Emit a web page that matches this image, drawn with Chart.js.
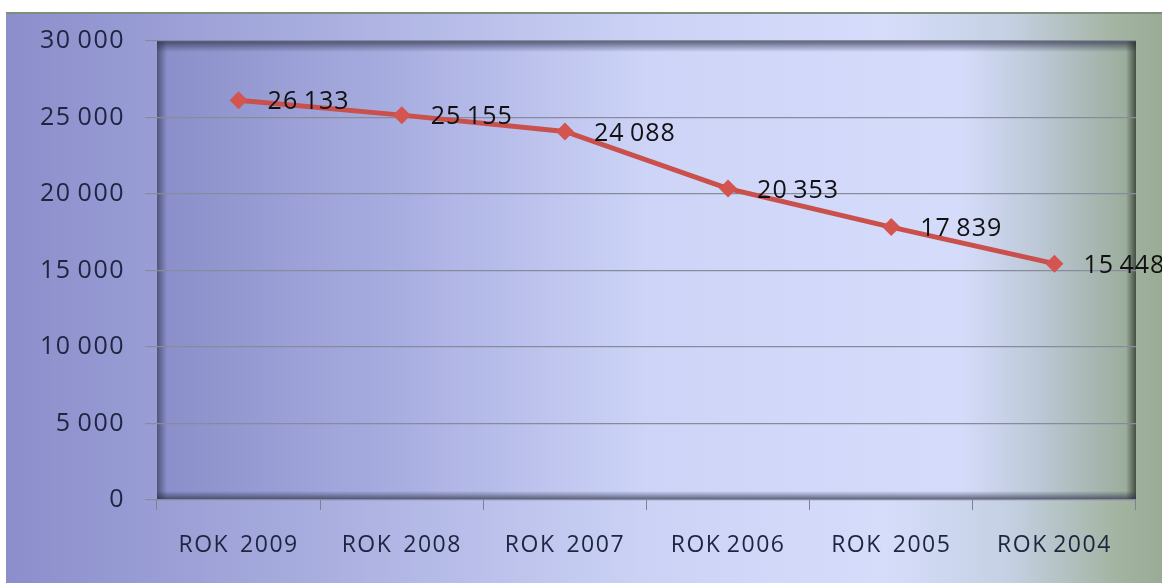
<!DOCTYPE html>
<html>
<head>
<meta charset="utf-8">
<script src="https://cdn.jsdelivr.net/npm/chart.js"></script>
<style>
  html, body { margin: 0; padding: 0; background: #fff; }
  #wrap { width: 1162px; height: 583px; }
</style>
</head>
<body>
<div id="wrap"><canvas id="rokChart" width="1162" height="583"></canvas></div>
<script>
const years = ['ROK  2009', 'ROK  2008', 'ROK  2007', 'ROK 2006', 'ROK  2005', 'ROK 2004'];
const counts = [26133, 25155, 24088, 20353, 17839, 15448];
const yMax = 30000;
const yStep = 5000;

const FONT = '"Open Sans", "DejaVu Sans", sans-serif';

function fmt(v) {
  // thousands separated by a space, like the original
  return String(v).replace(/\B(?=(\d{3})+(?!\d))/g, ' ');
}

// background of the whole panel and of the plot area
const backdrop = {
  id: 'backdrop',
  beforeDraw(chart) {
    const { ctx, chartArea: a, width, height } = chart;
    ctx.save();
    // outer panel
    let g = ctx.createLinearGradient(6, 0, width, 0);
    g.addColorStop(0, '#8b8ecb');
    g.addColorStop(0.28, '#aaafe0');
    g.addColorStop(0.55, '#cbd2f5');
    g.addColorStop(0.76, '#d6ddfb');
    g.addColorStop(0.87, '#c4d0e2');
    g.addColorStop(0.96, '#a3b4a2');
    g.addColorStop(1, '#9aab95');
    ctx.fillStyle = g;
    ctx.fillRect(6, 12, width - 6, height - 12);
    ctx.fillStyle = '#7f8d7b';
    ctx.fillRect(6, 12, width - 6, 2);

    // plot area
    g = ctx.createLinearGradient(a.left, 0, a.right, 0);
    g.addColorStop(0, '#8a8ec9');
    g.addColorStop(0.25, '#a9aee1');
    g.addColorStop(0.5, '#cdd4f7');
    g.addColorStop(0.82, '#d5dcfb');
    g.addColorStop(0.9, '#bcc8d6');
    g.addColorStop(1, '#98aa96');
    ctx.fillStyle = g;
    ctx.fillRect(a.left, a.top, a.right - a.left, a.bottom - a.top);

    // inner shadow
    g = ctx.createLinearGradient(0, a.top, 0, a.top + 11);
    g.addColorStop(0, 'rgba(40,45,70,0.7)');
    g.addColorStop(1, 'rgba(40,45,70,0)');
    ctx.fillStyle = g;
    ctx.fillRect(a.left, a.top, a.right - a.left, 11);

    g = ctx.createLinearGradient(a.left, 0, a.left + 10, 0);
    g.addColorStop(0, 'rgba(40,45,70,0.6)');
    g.addColorStop(1, 'rgba(40,45,70,0)');
    ctx.fillStyle = g;
    ctx.fillRect(a.left, a.top, 10, a.bottom - a.top);

    g = ctx.createLinearGradient(a.right, 0, a.right - 10, 0);
    g.addColorStop(0, 'rgba(30,40,30,0.7)');
    g.addColorStop(1, 'rgba(30,40,30,0)');
    ctx.fillStyle = g;
    ctx.fillRect(a.right - 10, a.top, 10, a.bottom - a.top);

    g = ctx.createLinearGradient(0, a.bottom, 0, a.bottom - 9);
    g.addColorStop(0, 'rgba(40,45,70,0.75)');
    g.addColorStop(1, 'rgba(40,45,70,0)');
    ctx.fillStyle = g;
    ctx.fillRect(a.left, a.bottom - 9, a.right - a.left, 9);
    ctx.restore();

    // the original text is set a little wide, with tight word gaps
    ctx.letterSpacing = '1.5px';
    ctx.wordSpacing = '-2px';
  }
};

// value labels to the right of each point
const valueLabels = {
  id: 'valueLabels',
  afterDatasetsDraw(chart) {
    const { ctx } = chart;
    const meta = chart.getDatasetMeta(0);
    ctx.save();
    ctx.letterSpacing = '1px';
    ctx.wordSpacing = '-2px';
    ctx.font = '25px ' + FONT;
    ctx.fillStyle = '#111111';
    ctx.textAlign = 'left';
    ctx.textBaseline = 'middle';
    meta.data.forEach((pt, i) => {
      ctx.fillText(fmt(counts[i]), pt.x + 29, pt.y + 2);
    });
    ctx.restore();
  }
};

const ctx = document.getElementById('rokChart').getContext('2d');
const rokChart = new Chart(ctx, {
  type: 'line',
  data: {
    labels: years,
    datasets: [{
      data: counts,
      borderColor: '#c9504b',
      backgroundColor: '#d4554f',
      borderWidth: 5,
      pointStyle: 'rectRot',
      pointRadius: 9,
      pointBorderWidth: 0,
      tension: 0
    }]
  },
  options: {
    responsive: false,
    animation: false,
    layout: { padding: { left: 0, right: 26, top: 41, bottom: 0 } },
    plugins: {
      legend: { display: false },
      tooltip: { enabled: false }
    },
    scales: {
      x: {
        offset: true,
        grid: {
          offset: true,
          drawOnChartArea: false,
          tickLength: 10,
          color: '#7d8194'
        },
        border: { display: false },
        ticks: {
          padding: 22,
          color: '#1d2540',
          font: { family: FONT, size: 23 },
          maxRotation: 0
        },
        afterFit(scale) { scale.height = 83; }
      },
      y: {
        min: 0,
        max: yMax,
        grid: {
          color: '#878b9c',
          lineWidth: 1.2,
          tickLength: 12
        },
        border: { display: false },
        ticks: {
          stepSize: yStep,
          padding: 20,
          color: '#1d2540',
          font: { family: FONT, size: 25 },
          callback: v => fmt(v)
        },
        afterFit(scale) { scale.width = 157; }
      }
    }
  },
  plugins: [backdrop, valueLabels]
});
</script>
</body>
</html>
